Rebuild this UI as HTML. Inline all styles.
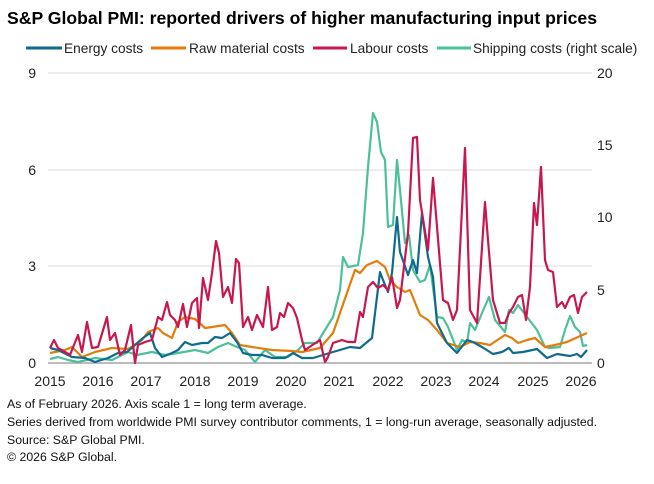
<!DOCTYPE html>
<html><head><meta charset="utf-8"><style>
body{margin:0;background:#fff;}
svg{display:block;font-family:"Liberation Sans",Arial,sans-serif;}
</style></head><body>
<svg width="654" height="484" viewBox="0 0 654 484" xmlns="http://www.w3.org/2000/svg">
<text x="7" y="24" font-size="17.6" font-weight="bold" fill="#000" textLength="590" lengthAdjust="spacingAndGlyphs">S&amp;P Global PMI: reported drivers of higher manufacturing input prices</text>
<g font-size="13.7" fill="#222">
<line x1="26" y1="48" x2="62" y2="48" stroke="#0f6b8c" stroke-width="3"/><text x="64" y="53">Energy costs</text>
<line x1="151" y1="48" x2="186" y2="48" stroke="#e47c0c" stroke-width="3"/><text x="189" y="53">Raw material costs</text>
<line x1="313" y1="48" x2="347" y2="48" stroke="#c8174f" stroke-width="3"/><text x="350" y="53">Labour costs</text>
<line x1="437" y1="48" x2="471" y2="48" stroke="#4dbf9b" stroke-width="3"/><text x="473" y="53">Shipping costs (right scale)</text>
</g>
<g stroke="#d9d9d9" stroke-width="1">
<line x1="48" y1="73" x2="592" y2="73"/><line x1="48" y1="170" x2="592" y2="170"/><line x1="48" y1="266" x2="592" y2="266"/>
</g>
<line x1="48" y1="363" x2="592" y2="363" stroke="#a6a6a6" stroke-width="1.5"/>
<g font-size="14" fill="#222">
<text x="36" y="78" text-anchor="end">9</text><text x="36" y="175" text-anchor="end">6</text><text x="36" y="271" text-anchor="end">3</text><text x="36" y="368" text-anchor="end">0</text>
<text x="597" y="78">20</text><text x="597" y="150">15</text><text x="597" y="222">10</text><text x="597" y="295">5</text><text x="597" y="368">0</text>
<g text-anchor="middle">
<text x="50" y="386">2015</text><text x="98" y="386">2016</text><text x="146" y="386">2017</text><text x="195" y="386">2018</text><text x="243" y="386">2019</text><text x="291" y="386">2020</text><text x="339" y="386">2021</text><text x="388" y="386">2022</text><text x="436" y="386">2023</text><text x="484" y="386">2024</text><text x="533" y="386">2025</text><text x="581" y="386">2026</text>
</g></g>
<g fill="none" stroke-width="2.2" stroke-linejoin="round">
<polyline stroke="#4dbf9b" points="50,359 58,357 68,360 78,362 95,358 112,360 122,355 128,352 137,355 152,352 165,355 178,353 195,350 208,353 218,347 228,343 237,347 245,350 255,362 265,350 275,357 288,357 298,350 305,343 317,343 333,317 340,290 343,257 348,267 358,265 363,233 368,167 373,113 377,122 381,152 385,160 388,227 393,225 397,160 400,190 405,243 409,235 413,270 420,282 425,280 430,265 437,317 443,318 448,327 457,350 462,340 467,343 470,323 475,330 482,313 489,297 495,320 505,332 509,310 513,313 518,305 527,317 537,330 545,347 550,348 560,347 565,330 570,316 575,327 580,332 583,346 587,345"/>
<polyline stroke="#e47c0c" points="50,353 65,350 72,347 82,357 95,352 112,348 128,349 142,340 148,332 158,328 163,333 172,338 178,322 185,317 195,319 205,328 212,327 225,325 232,333 240,345 252,347 272,350 292,351 302,352 320,348 333,333 340,313 348,290 355,270 360,273 367,265 377,261 385,267 390,280 397,287 405,292 410,290 420,315 428,320 437,330 447,343 460,347 470,342 480,343 490,345 505,335 512,338 518,343 527,340 535,338 545,347 555,345 567,342 578,337 587,333"/>
<polyline stroke="#0f6b8c" points="50,348 58,350 72,357 85,358 95,362 108,358 118,353 127,352 135,345 143,338 150,333 155,348 162,357 172,353 178,350 185,342 192,345 202,343 208,343 215,337 222,338 230,333 237,342 243,353 252,355 262,355 272,358 285,358 293,353 302,358 313,358 333,352 350,347 360,348 372,338 380,272 383,280 388,292 392,273 397,217 400,252 408,275 413,260 417,273 422,213 428,257 433,277 437,323 447,343 457,353 467,340 473,342 482,347 493,354 502,352 509,348 513,353 523,352 537,349 547,358 557,354 570,356 577,354 581,357 587,350"/>
<polyline stroke="#c8174f" points="50,348 54,340 58,348 65,352 70,355 78,335 82,352 87,322 92,348 98,347 107,317 110,340 115,333 120,355 125,350 131,325 135,363 138,345 145,342 152,340 158,317 162,320 167,302 170,315 175,320 178,327 183,304 187,327 192,303 197,298 199,328 203,278 208,300 212,273 216,241 219,253 223,297 228,287 232,303 236,259 239,263 243,327 248,317 252,330 257,315 263,327 268,287 272,330 277,327 280,313 284,317 288,303 293,308 297,318 302,340 305,350 320,340 325,362 328,357 333,343 342,340 348,342 355,342 360,312 363,317 368,287 373,282 378,288 383,285 388,290 392,277 397,308 400,300 408,233 413,138 417,137 420,200 428,250 433,178 443,300 448,303 453,320 457,310 465,148 470,310 477,323 485,202 488,240 493,300 500,323 505,323 509,313 513,307 518,297 522,295 526,320 530,287 534,203 537,225 541,167 545,260 548,270 553,272 557,307 562,302 565,308 570,297 574,295 578,313 582,297 587,292"/>
</g>
<g font-size="12.3" fill="#111">
<text x="7" y="408">As of February 2026. Axis scale 1 = long term average.</text>
<text x="7" y="426" textLength="590" lengthAdjust="spacingAndGlyphs">Series derived from worldwide PMI survey contributor comments, 1 = long-run average, seasonally adjusted.</text>
<text x="7" y="444">Source: S&amp;P Global PMI.</text>
<text x="7" y="461">© 2026 S&amp;P Global.</text>
</g>
</svg>
</body></html>
